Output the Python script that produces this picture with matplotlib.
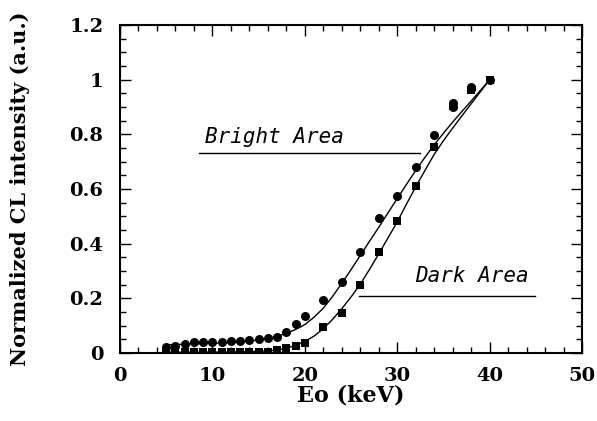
import numpy as np
import matplotlib
matplotlib.use("Agg")
import matplotlib.pyplot as plt
from matplotlib.ticker import MultipleLocator, FuncFormatter

# measured points
energy = [5, 6, 7, 8, 9, 10, 11, 12, 13, 14, 15, 16, 17, 18, 19, 20,
          22, 24, 26, 28, 30, 32, 34, 36, 38, 40]
bright = [0.023, 0.027, 0.033, 0.039, 0.041, 0.041, 0.042, 0.043, 0.044, 0.047,
          0.050, 0.056, 0.060, 0.078, 0.106, 0.137,
          0.194, 0.259, 0.368, 0.493, 0.574, 0.682, 0.798, 0.915, 0.975, 1.0]
dark = [0.005, 0.005, 0.003, 0.003, 0.003, 0.003, 0.003, 0.003, 0.003, 0.003,
        0.003, 0.004, 0.010, 0.017, 0.027, 0.038,
        0.094, 0.145, 0.249, 0.368, 0.484, 0.612, 0.755, 0.903, 0.962, 1.0]
# duplicate points at 36 and 38 keV
bright_extra_x = [36, 38]
bright_extra_y = [0.900, 0.965]

# fitted curves
fit_x = [5, 8, 12, 14, 16, 17, 18, 19, 20, 21, 22, 23, 24, 25, 26, 27, 28,
         29, 30, 31, 32, 33, 34, 35, 36, 37, 38, 39, 40]
fit_bright = [0.030, 0.033, 0.038, 0.043, 0.053, 0.061, 0.072, 0.086, 0.104,
              0.131, 0.164, 0.207, 0.255, 0.305, 0.357, 0.409, 0.460, 0.513,
              0.565, 0.617, 0.668, 0.716, 0.762, 0.804, 0.845, 0.884, 0.922,
              0.961, 1.0]
fit_dark = [0.003, 0.003, 0.004, 0.005, 0.008, 0.011, 0.018, 0.028, 0.042,
            0.062, 0.089, 0.123, 0.162, 0.205, 0.252, 0.306, 0.363, 0.421,
            0.480, 0.545, 0.608, 0.668, 0.727, 0.777, 0.823, 0.868, 0.912,
            0.956, 1.0]

fig = plt.figure(figsize=(5.97, 4.21), dpi=100)
ax = fig.add_axes([0.201, 0.1615, 0.774, 0.779])

ax.plot(fit_x, fit_bright, color='black', lw=1.0)
ax.plot(fit_x, fit_dark, color='black', lw=1.0)
ax.plot(energy, bright, 'o', color='black', ms=6.5, mew=0)
ax.plot(bright_extra_x, bright_extra_y, 'o', color='black', ms=6.5, mew=0)
ax.plot(energy, dark, 's', color='black', ms=6, mew=0)

# labels with underline
lab_font = dict(family='DejaVu Sans Mono', style='italic', size=15)
ax.text(9.2, 0.79, "Bright Area", fontdict=lab_font, va='center', ha='left')
ax.plot([8.5, 32.5], [0.732, 0.732], color='black', lw=1.0)
ax.text(31.9, 0.28, "Dark Area", fontdict=lab_font, va='center', ha='left')
ax.plot([25.9, 44.9], [0.209, 0.209], color='black', lw=1.0)

ax.set_xlim(0, 50)
ax.set_ylim(0, 1.2)
ax.xaxis.set_major_locator(MultipleLocator(10))
ax.xaxis.set_minor_locator(MultipleLocator(2))
ax.yaxis.set_major_locator(MultipleLocator(0.2))
ax.yaxis.set_minor_locator(MultipleLocator(0.05))
ax.yaxis.set_major_formatter(FuncFormatter(lambda v, p: "%g" % round(v, 2)))

ax.tick_params(which='both', direction='in', top=True, right=True, width=1.0)
ax.tick_params(which='major', length=8)
ax.tick_params(which='minor', length=4)
for s in ax.spines.values():
    s.set_linewidth(1.5)

for lab in ax.get_xticklabels() + ax.get_yticklabels():
    lab.set_fontfamily('DejaVu Serif')
    lab.set_fontweight('bold')
    lab.set_fontsize(14)
ax.tick_params(axis='x', pad=10)
ax.tick_params(axis='y', pad=12)

ax.set_xlabel("Eo (keV)", family='DejaVu Serif', weight='bold', size=16, labelpad=0)
ax.set_ylabel("Normalized CL intensity (a.u.)", family='DejaVu Serif',
              weight='bold', size=15, labelpad=28)

fig.savefig("out.png", dpi=100)
